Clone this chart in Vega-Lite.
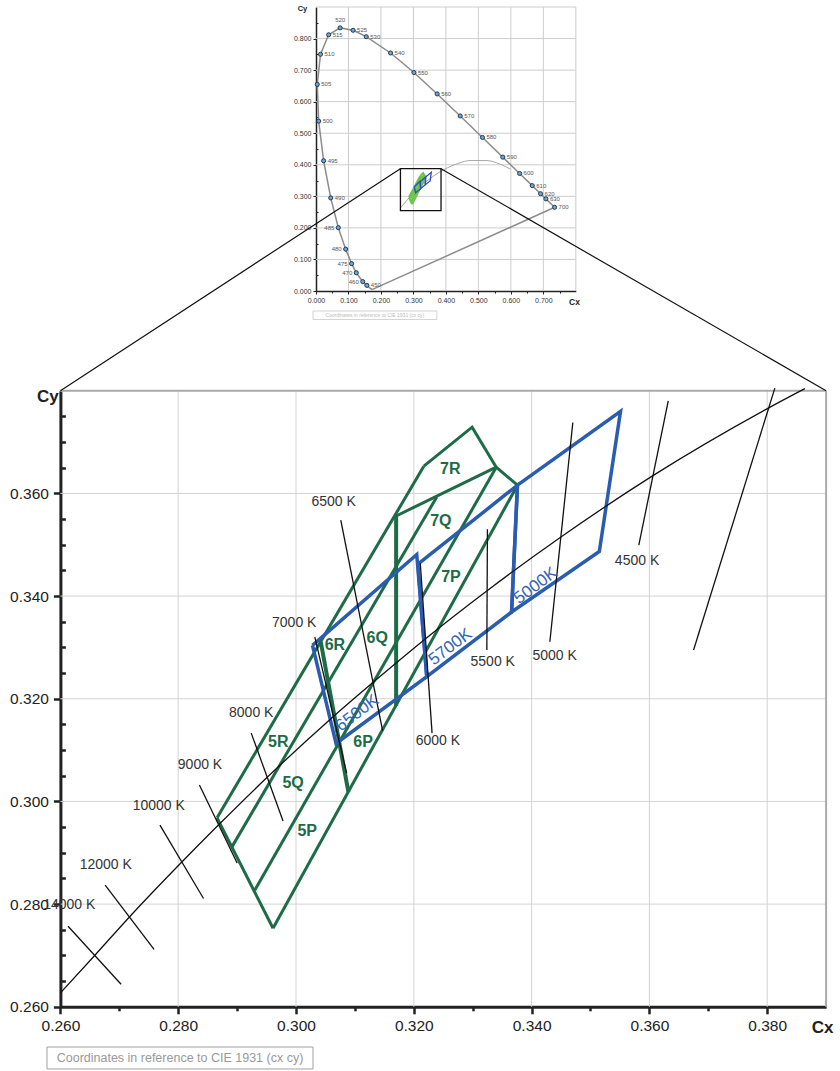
{
"$schema":"https://vega.github.io/schema/vega-lite/v6.json",
"width":840,"height":1071,"padding":0,"autosize":{"type":"none"},
"background":"#ffffff",
"config":{"view":{"stroke":null},"font":"Liberation Sans","text":{"font":"Liberation Sans"},"axis":{"labelFont":"Liberation Sans","titleFont":"Liberation Sans"}},
"datasets":{
"spectral":[{"nm":380,"x":0.1741,"y":0.0050},{"nm":430,"x":0.1689,"y":0.0069},{"nm":440,"x":0.1644,"y":0.0109},{"nm":450,"x":0.1566,"y":0.0177},{"nm":460,"x":0.1440,"y":0.0297},{"nm":470,"x":0.1241,"y":0.0578},{"nm":475,"x":0.1096,"y":0.0868},{"nm":480,"x":0.0913,"y":0.1327},{"nm":485,"x":0.0687,"y":0.2007},{"nm":490,"x":0.0454,"y":0.2950},{"nm":495,"x":0.0235,"y":0.4127},{"nm":500,"x":0.0082,"y":0.5384},{"nm":505,"x":0.0039,"y":0.6548},{"nm":510,"x":0.0139,"y":0.7502},{"nm":515,"x":0.0389,"y":0.8120},{"nm":520,"x":0.0743,"y":0.8338},{"nm":525,"x":0.1142,"y":0.8262},{"nm":530,"x":0.1547,"y":0.8059},{"nm":540,"x":0.2296,"y":0.7543},{"nm":550,"x":0.3016,"y":0.6923},{"nm":560,"x":0.3731,"y":0.6245},{"nm":570,"x":0.4441,"y":0.5547},{"nm":580,"x":0.5125,"y":0.4866},{"nm":590,"x":0.5752,"y":0.4242},{"nm":600,"x":0.6270,"y":0.3725},{"nm":610,"x":0.6658,"y":0.3340},{"nm":620,"x":0.6915,"y":0.3083},{"nm":630,"x":0.7079,"y":0.2920},{"nm":700,"x":0.7347,"y":0.2653}],
"purple":[{"x":0.1741,"y":0.0050},{"x":0.7347,"y":0.2653}],
"iplanck":[{"x":0.2600,"y":0.2627},{"x":0.2807,"y":0.2883},{"x":0.3135,"y":0.3236},{"x":0.3451,"y":0.3516},{"x":0.3805,"y":0.3768},{"x":0.4053,"y":0.3907},{"x":0.4369,"y":0.4041},{"x":0.4770,"y":0.4137},{"x":0.5267,"y":0.4133},{"x":0.5646,"y":0.4029},{"x":0.5857,"y":0.3931},{"x":0.5990,"y":0.3860}],
"planck":[{"x":0.2600,"y":0.2627},{"x":0.2659,"y":0.2701},{"x":0.2718,"y":0.2776},{"x":0.2807,"y":0.2883},{"x":0.2870,"y":0.2956},{"x":0.2952,"y":0.3048},{"x":0.3064,"y":0.3166},{"x":0.3135,"y":0.3236},{"x":0.3221,"y":0.3318},{"x":0.3325,"y":0.3411},{"x":0.3451,"y":0.3516},{"x":0.3608,"y":0.3636},{"x":0.3805,"y":0.3768},{"x":0.3864,"y":0.3804}],
"iso":[{"T":14000,"x":0.2613,"y":0.2757},{"T":14000,"x":0.2703,"y":0.2644},{"T":12000,"x":0.2676,"y":0.2837},{"T":12000,"x":0.2759,"y":0.2712},{"T":10000,"x":0.2769,"y":0.2954},{"T":10000,"x":0.2843,"y":0.2811},{"T":9000,"x":0.2836,"y":0.3032},{"T":9000,"x":0.2900,"y":0.2880},{"T":8000,"x":0.2924,"y":0.3133},{"T":8000,"x":0.2978,"y":0.2962},{"T":7000,"x":0.3032,"y":0.3320},{"T":7000,"x":0.3086,"y":0.3055},{"T":6500,"x":0.3076,"y":0.3548},{"T":6500,"x":0.3147,"y":0.3138},{"T":6000,"x":0.3211,"y":0.3464},{"T":6000,"x":0.3231,"y":0.3133},{"T":5500,"x":0.3325,"y":0.3530},{"T":5500,"x":0.3324,"y":0.3295},{"T":5000,"x":0.3470,"y":0.3738},{"T":5000,"x":0.3431,"y":0.3311},{"T":4500,"x":0.3632,"y":0.3780},{"T":4500,"x":0.3582,"y":0.3499},{"T":4000,"x":0.3813,"y":0.3805},{"T":4000,"x":0.3675,"y":0.3295}],
"isolabels":[{"label":"14000 K","x":0.2615,"y":0.2798},{"label":"12000 K","x":0.2677,"y":0.2876},{"label":"10000 K","x":0.2767,"y":0.2991},{"label":"9000 K","x":0.2837,"y":0.3071},{"label":"8000 K","x":0.2924,"y":0.3172},{"label":"7000 K","x":0.2997,"y":0.3347},{"label":"6500 K","x":0.3064,"y":0.3583},{"label":"6000 K","x":0.3241,"y":0.3118},{"label":"5500 K","x":0.3334,"y":0.3271},{"label":"5000 K","x":0.3439,"y":0.3283},{"label":"4500 K","x":0.3579,"y":0.3468}],
"green":[{"seg":"L1","x":0.2866,"y":0.2968},{"seg":"L1","x":0.3217,"y":0.3653},{"seg":"L2","x":0.2891,"y":0.2911},{"seg":"L2","x":0.3239,"y":0.3593},{"seg":"L3","x":0.2930,"y":0.2827},{"seg":"L3","x":0.3340,"y":0.3651},{"seg":"L4","x":0.2961,"y":0.2753},{"seg":"L4","x":0.3376,"y":0.3616},{"seg":"bottom","x":0.2866,"y":0.2968},{"seg":"bottom","x":0.2961,"y":0.2753},{"seg":"top","x":0.3217,"y":0.3653},{"seg":"top","x":0.3299,"y":0.3729},{"seg":"top","x":0.3340,"y":0.3651},{"seg":"top","x":0.3376,"y":0.3616},{"seg":"CF","x":0.3170,"y":0.3556},{"seg":"CF","x":0.3340,"y":0.3651},{"seg":"b56","x":0.3042,"y":0.3311},{"seg":"b56","x":0.3089,"y":0.3018},{"seg":"b67","x":0.3170,"y":0.3556},{"seg":"b67","x":0.3170,"y":0.3186}],
"greenlabels":[{"label":"5R","x":0.2970,"y":0.3115},{"label":"5Q","x":0.2995,"y":0.3035},{"label":"5P","x":0.3019,"y":0.2942},{"label":"6R","x":0.3066,"y":0.3304},{"label":"6Q","x":0.3138,"y":0.3318},{"label":"6P","x":0.3114,"y":0.3115},{"label":"7R","x":0.3262,"y":0.3647},{"label":"7Q","x":0.3246,"y":0.3546},{"label":"7P","x":0.3263,"y":0.3437}],
"blue":[{"bin":"6500K","x":0.3028,"y":0.3304},{"bin":"6500K","x":0.3205,"y":0.3481},{"bin":"6500K","x":0.3222,"y":0.3243},{"bin":"6500K","x":0.3068,"y":0.3113},{"bin":"6500K","x":0.3028,"y":0.3304},{"bin":"5700K","x":0.3207,"y":0.3462},{"bin":"5700K","x":0.3376,"y":0.3616},{"bin":"5700K","x":0.3366,"y":0.3369},{"bin":"5700K","x":0.3222,"y":0.3243},{"bin":"5700K","x":0.3207,"y":0.3462},{"bin":"5000K","x":0.3376,"y":0.3616},{"bin":"5000K","x":0.3551,"y":0.3760},{"bin":"5000K","x":0.3515,"y":0.3487},{"bin":"5000K","x":0.3366,"y":0.3369},{"bin":"5000K","x":0.3376,"y":0.3616}],
"bluelabels":[{"label":"6500K","x":0.3104,"y":0.3172},{"label":"5700K","x":0.3262,"y":0.3301},{"label":"5000K","x":0.3407,"y":0.3420}],
"connector":[{"side":"L","x":0.31772,"y":0.42325},{"side":"L","x":0.26,"y":0.38},{"side":"R","x":0.32462,"y":0.42325},{"side":"R","x":0.39,"y":0.38}],
"igx":[{"v":0.1},{"v":0.2},{"v":0.3},{"v":0.4},{"v":0.5},{"v":0.6},{"v":0.7},{"v":0.8}],
"igy":[{"v":0.1},{"v":0.2},{"v":0.3},{"v":0.4},{"v":0.5},{"v":0.6},{"v":0.7},{"v":0.8},{"v":0.9}],
"bgx":[{"v":0.28},{"v":0.30},{"v":0.32},{"v":0.34},{"v":0.36},{"v":0.38}],
"bgy":[{"v":0.28},{"v":0.30},{"v":0.32},{"v":0.34},{"v":0.36}],
"note":[{"text":"Coordinates in reference to CIE 1931 (cx cy)"}]
},
"layer":[
{"layer":[
 {"data":{"name":"igx"},"mark":{"type":"rule","color":"#cdcdcd","strokeWidth":1},
  "encoding":{
   "x":{"field":"v","type":"quantitative","scale":{"domain":[0,0.8],"range":[316,575.8],"nice":false,"zero":false},
    "axis":{"orient":"bottom","offset":-780,"values":[0,0.05,0.1,0.15,0.2,0.25,0.3,0.35,0.4,0.45,0.5,0.55,0.6,0.65,0.7,0.75],
     "labelExpr":"round(datum.value*100) % 10 == 0 ? format(datum.value, '.3f') : ''",
     "labelFontSize":7,"labelColor":"#333333","labelPadding":2,"labelOverlap":false,"labelFlush":false,"labelBound":false,
     "tickColor":"#222222","tickWidth":1,"tickSize":{"condition":{"test":"round(datum.value*100) % 10 == 0","value":3},"value":2},
     "domainColor":"#222222","domainWidth":1.5,"grid":false,
     "title":"Cx","titleFontSize":8.5,"titleFontWeight":"bold","titleColor":"#222222","titleAngle":0,"titleAlign":"center","titleBaseline":"middle","titleX":574,"titleY":10}},
   "y":{"datum":0,"type":"quantitative","scale":{"domain":[0,0.9],"range":[291,7],"nice":false,"zero":false}},
   "y2":{"datum":0.9}}},
 {"data":{"name":"igy"},"mark":{"type":"rule","color":"#cdcdcd","strokeWidth":1},
  "encoding":{
   "y":{"field":"v","type":"quantitative",
    "axis":{"orient":"left","offset":-316,"values":[0,0.05,0.1,0.15,0.2,0.25,0.3,0.35,0.4,0.45,0.5,0.55,0.6,0.65,0.7,0.75,0.8,0.85],
     "labelExpr":"round(datum.value*100) % 10 == 0 ? format(datum.value, '.3f') : ''",
     "labelFontSize":7,"labelColor":"#333333","labelPadding":2,"labelOverlap":false,"labelFlush":false,"labelBound":false,
     "tickColor":"#222222","tickWidth":1,"tickSize":{"condition":{"test":"round(datum.value*100) % 10 == 0","value":3},"value":-2},
     "domainColor":"#222222","domainWidth":1.5,"grid":false,
     "title":"Cy","titleFontSize":7.5,"titleFontWeight":"bold","titleColor":"#222222","titleAngle":0,"titleAlign":"center","titleBaseline":"middle","titleX":-14,"titleY":8}},
   "x":{"datum":0,"type":"quantitative"},"x2":{"datum":0.8}}},
 {"data":{"name":"spectral"},"mark":{"type":"line","color":"#8c8c8c","strokeWidth":1.5},
  "encoding":{"x":{"field":"x","type":"quantitative"},"y":{"field":"y","type":"quantitative"},"order":{"value":null}}},
 {"data":{"name":"purple"},"mark":{"type":"line","color":"#8c8c8c","strokeWidth":1.5},
  "encoding":{"x":{"field":"x","type":"quantitative"},"y":{"field":"y","type":"quantitative"},"order":{"value":null}}},
 {"data":{"name":"iplanck"},"mark":{"type":"line","color":"#a8a8a8","strokeWidth":1,"interpolate":"monotone"},
  "encoding":{"x":{"field":"x","type":"quantitative"},"y":{"field":"y","type":"quantitative"},"order":{"value":null}}},
 {"data":{"name":"green"},"mark":{"type":"line","color":"#6cc24a","strokeWidth":2.2},
  "encoding":{"x":{"field":"x","type":"quantitative"},"y":{"field":"y","type":"quantitative"},"detail":{"field":"seg"},"order":{"value":null}}},
 {"data":{"name":"blue"},"mark":{"type":"line","color":"#2b50c8","strokeWidth":1.3},
  "encoding":{"x":{"field":"x","type":"quantitative"},"y":{"field":"y","type":"quantitative"},"detail":{"field":"bin"},"order":{"value":null}}},
 {"data":{"values":[{}]},"mark":{"type":"rect","filled":false,"stroke":"#111111","strokeWidth":1.3},
  "encoding":{"x":{"datum":0.26,"type":"quantitative"},"x2":{"datum":0.385},"y":{"datum":0.255,"type":"quantitative"},"y2":{"datum":0.388}}},
 {"data":{"name":"spectral"},"transform":[{"filter":"datum.nm >= 450"}],
  "mark":{"type":"point","shape":"circle","filled":true,"fill":"#6aa6d8","stroke":"#1d2b3c","strokeWidth":0.9,"size":17,"opacity":1},
  "encoding":{"x":{"field":"x","type":"quantitative"},"y":{"field":"y","type":"quantitative"}}},
 {"data":{"name":"spectral"},"transform":[{"filter":"datum.nm >= 450 && indexof([460,470,475,480,485,520], datum.nm) < 0"}],
  "mark":{"type":"text","align":"left","baseline":"middle","dx":4,"fontSize":6,"color":"#555555"},
  "encoding":{"x":{"field":"x","type":"quantitative"},"y":{"field":"y","type":"quantitative"},"text":{"field":"nm","type":"nominal"}}},
 {"data":{"name":"spectral"},"transform":[{"filter":"indexof([460,470,475,480,485], datum.nm) >= 0"}],
  "mark":{"type":"text","align":"right","baseline":"middle","dx":-4,"fontSize":6,"color":"#555555"},
  "encoding":{"x":{"field":"x","type":"quantitative"},"y":{"field":"y","type":"quantitative"},"text":{"field":"nm","type":"nominal"}}},
 {"data":{"name":"spectral"},"transform":[{"filter":"datum.nm == 520"}],
  "mark":{"type":"text","align":"center","baseline":"middle","dy":-8,"fontSize":6,"color":"#555555"},
  "encoding":{"x":{"field":"x","type":"quantitative"},"y":{"field":"y","type":"quantitative"},"text":{"field":"nm","type":"nominal"}}},
 {"data":{"name":"note"},"mark":{"type":"rect","filled":false,"stroke":"#c8c8c8","strokeWidth":0.8},
  "encoding":{"x":{"datum":-0.0092,"type":"quantitative"},"x2":{"datum":0.3723},"y":{"datum":-0.0634,"type":"quantitative"},"y2":{"datum":-0.0903}}},
 {"data":{"name":"note"},"mark":{"type":"text","align":"center","baseline":"middle","fontSize":5,"color":"#bbbbbb"},
  "encoding":{"x":{"datum":0.1815,"type":"quantitative"},"y":{"datum":-0.0765,"type":"quantitative"},"text":{"field":"text"}}}
]},
{"layer":[
 {"data":{"name":"bgx"},"mark":{"type":"rule","color":"#d3d3d3","strokeWidth":1},
  "encoding":{
   "x":{"field":"v","type":"quantitative","scale":{"domain":[0.26,0.39],"range":[60.4,826.1],"nice":false,"zero":false},
    "axis":{"orient":"bottom","offset":-64.2,"values":[0.26,0.265,0.27,0.275,0.28,0.285,0.29,0.295,0.3,0.305,0.31,0.315,0.32,0.325,0.33,0.335,0.34,0.345,0.35,0.355,0.36,0.365,0.37,0.375,0.38,0.385],
     "labelExpr":"round(datum.value*1000) % 20 == 0 ? format(datum.value, '.3f') : ''",
     "labelFontSize":15.5,"labelColor":"#222222","labelPadding":5,"labelOverlap":false,"labelFlush":false,"labelBound":false,
     "tickColor":"#222222","tickWidth":2.5,"tickSize":{"condition":{"test":"round(datum.value*1000) % 20 == 0","value":7},"value":4},
     "domainColor":"#222222","domainWidth":3,"grid":false,
     "title":"Cx","titleFontSize":17,"titleFontWeight":"bold","titleColor":"#222222","titleAngle":0,"titleAlign":"center","titleBaseline":"middle","titleX":822,"titleY":21}},
   "y":{"datum":0.26,"type":"quantitative","scale":{"domain":[0.26,0.38],"range":[1006.8,390.7],"nice":false,"zero":false}},
   "y2":{"datum":0.38}}},
 {"data":{"name":"bgy"},"mark":{"type":"rule","color":"#d3d3d3","strokeWidth":1},
  "encoding":{
   "y":{"field":"v","type":"quantitative",
    "axis":{"orient":"left","offset":-60.4,"values":[0.26,0.265,0.27,0.275,0.28,0.285,0.29,0.295,0.3,0.305,0.31,0.315,0.32,0.325,0.33,0.335,0.34,0.345,0.35,0.355,0.36,0.365,0.37,0.375],
     "labelExpr":"round(datum.value*1000) % 20 == 0 ? format(datum.value, '.3f') : ''",
     "labelFontSize":15.5,"labelColor":"#222222","labelPadding":5,"labelOverlap":false,"labelFlush":false,"labelBound":false,
     "tickColor":"#222222","tickWidth":2.5,"tickSize":{"condition":{"test":"round(datum.value*1000) % 20 == 0","value":7},"value":-5},
     "domainColor":"#222222","domainWidth":3,"grid":false,
     "title":"Cy","titleFontSize":17,"titleFontWeight":"bold","titleColor":"#222222","titleAngle":0,"titleAlign":"center","titleBaseline":"middle","titleX":-13,"titleY":396}},
   "x":{"datum":0.26,"type":"quantitative"},"x2":{"datum":0.39}}},
 {"data":{"values":[{}]},"mark":{"type":"rule","color":"#aaaaaa","strokeWidth":2},
  "encoding":{"x":{"datum":0.26,"type":"quantitative"},"x2":{"datum":0.39},"y":{"datum":0.38,"type":"quantitative"}}},
 {"data":{"values":[{}]},"mark":{"type":"rule","color":"#aaaaaa","strokeWidth":2},
  "encoding":{"x":{"datum":0.39,"type":"quantitative"},"y":{"datum":0.26,"type":"quantitative"},"y2":{"datum":0.38}}},
 {"data":{"name":"green"},"transform":[{"filter":"datum.seg != 'b56' && datum.seg != 'b67'"}],"mark":{"type":"line","color":"#1d6b47","strokeWidth":3},
  "encoding":{"x":{"field":"x","type":"quantitative"},"y":{"field":"y","type":"quantitative"},"detail":{"field":"seg"},"order":{"value":null}}},
 {"data":{"name":"green"},"transform":[{"filter":"datum.seg == 'b56' || datum.seg == 'b67'"}],"mark":{"type":"line","color":"#1d6b47","strokeWidth":4},
  "encoding":{"x":{"field":"x","type":"quantitative"},"y":{"field":"y","type":"quantitative"},"detail":{"field":"seg"},"order":{"value":null}}},
 {"data":{"name":"blue"},"mark":{"type":"line","color":"#2a5cb0","strokeWidth":3.5},
  "encoding":{"x":{"field":"x","type":"quantitative"},"y":{"field":"y","type":"quantitative"},"detail":{"field":"bin"},"order":{"value":null}}},
 {"data":{"name":"iso"},"mark":{"type":"line","color":"#111111","strokeWidth":1.3},
  "encoding":{"x":{"field":"x","type":"quantitative"},"y":{"field":"y","type":"quantitative"},"detail":{"field":"T"},"order":{"value":null}}},
 {"data":{"name":"planck"},"mark":{"type":"line","color":"#111111","strokeWidth":1.3,"interpolate":"monotone"},
  "encoding":{"x":{"field":"x","type":"quantitative"},"y":{"field":"y","type":"quantitative"},"order":{"value":null}}},
 {"data":{"name":"connector"},"mark":{"type":"line","color":"#111111","strokeWidth":1.2},
  "encoding":{"x":{"field":"x","type":"quantitative"},"y":{"field":"y","type":"quantitative"},"detail":{"field":"side"},"order":{"value":null}}},
 {"data":{"name":"isolabels"},"mark":{"type":"text","align":"center","baseline":"middle","fontSize":14,"color":"#333333"},
  "encoding":{"x":{"field":"x","type":"quantitative"},"y":{"field":"y","type":"quantitative"},"text":{"field":"label"}}},
 {"data":{"name":"greenlabels"},"mark":{"type":"text","align":"center","baseline":"middle","fontSize":16,"fontWeight":"bold","color":"#1d6b47"},
  "encoding":{"x":{"field":"x","type":"quantitative"},"y":{"field":"y","type":"quantitative"},"text":{"field":"label"}}},
 {"data":{"name":"bluelabels"},"mark":{"type":"text","align":"center","baseline":"middle","fontSize":17,"angle":323,"color":"#3565b8"},
  "encoding":{"x":{"field":"x","type":"quantitative"},"y":{"field":"y","type":"quantitative"},"text":{"field":"label"}}},
 {"data":{"name":"note"},"mark":{"type":"rect","filled":false,"stroke":"#a0a0a0","strokeWidth":1},
  "encoding":{"x":{"datum":0.25772,"type":"quantitative"},"x2":{"datum":0.30289},"y":{"datum":0.25217,"type":"quantitative"},"y2":{"datum":0.24789}}},
 {"data":{"name":"note"},"mark":{"type":"text","align":"center","baseline":"middle","fontSize":12.5,"color":"#999999"},
  "encoding":{"x":{"datum":0.28031,"type":"quantitative"},"y":{"datum":0.25003,"type":"quantitative"},"text":{"field":"text"}}}
]}
],
"resolve":{"scale":{"x":"independent","y":"independent"}}
}
